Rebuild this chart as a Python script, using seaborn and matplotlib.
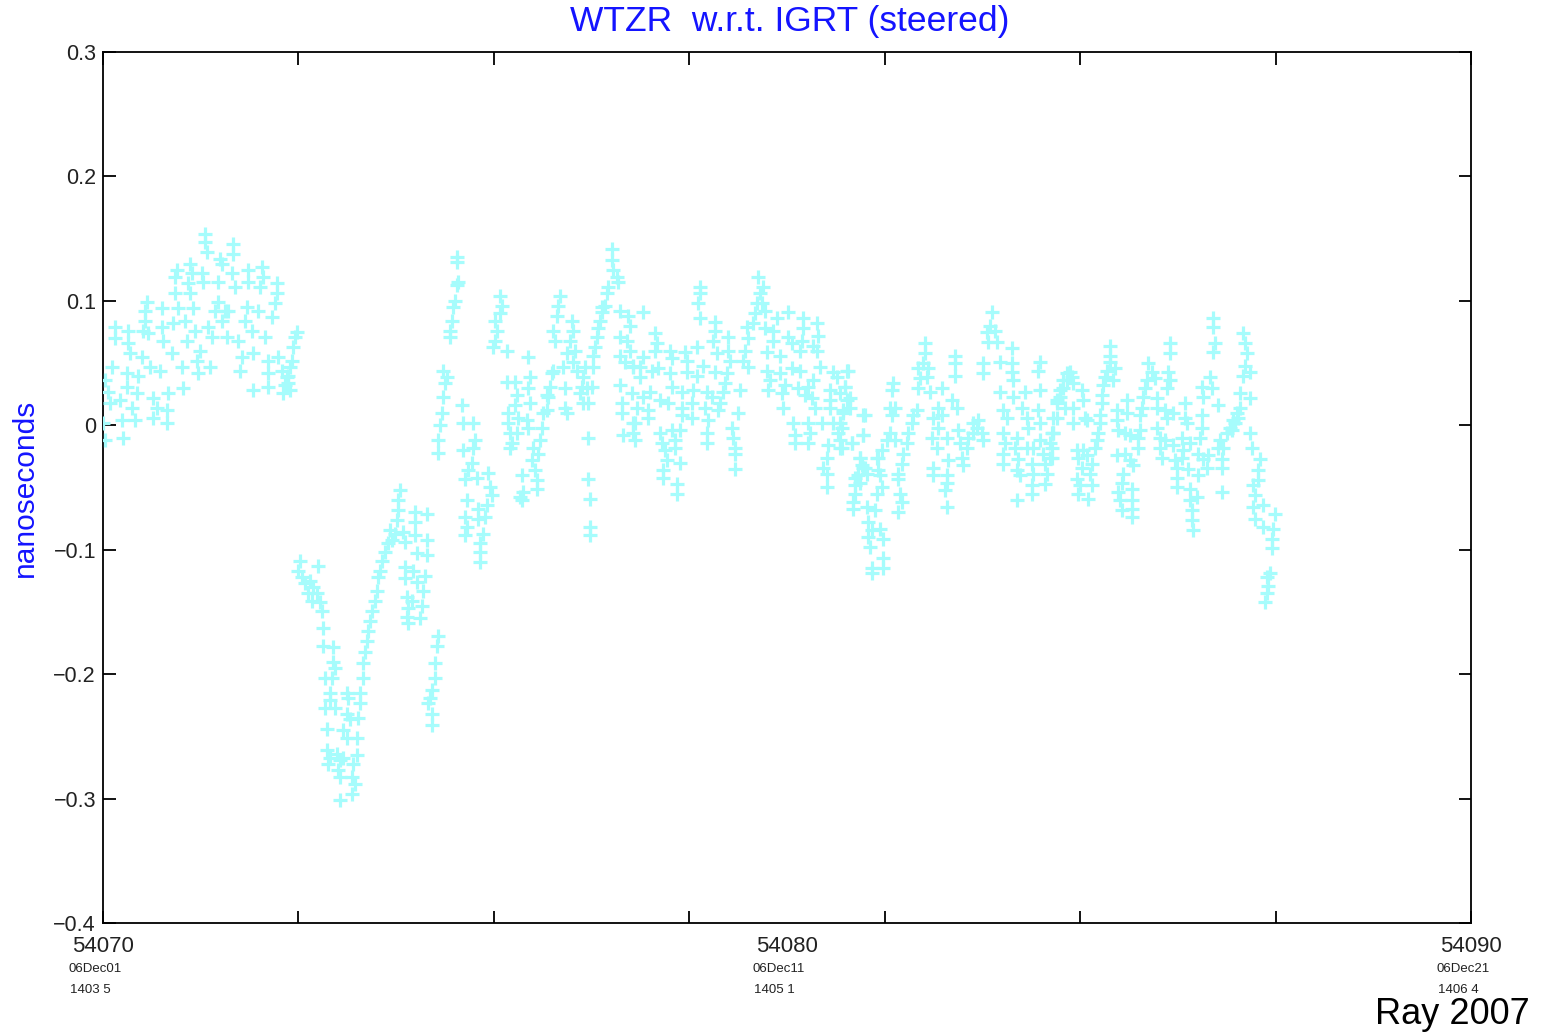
import matplotlib
matplotlib.use("Agg")
import matplotlib.pyplot as plt
import seaborn as sns
import pandas as pd

# ---------------- data ----------------
mjd_base = 54070
# (day offset from MJD 54070, offset in nanoseconds)
seg_a = [(0.03,0.036),(0.0,0.002),(0.03,-0.012),(0.07,0.027),(0.13,0.047),(0.18,0.079),(0.18,0.070),(0.10,0.018),
         (0.25,0.020),(0.28,0.004),(0.29,-0.010),(0.37,0.076),(0.37,0.066),(0.39,0.058),(0.35,0.031),(0.35,0.042),
         (0.42,0.014),(0.47,0.004),(0.50,0.026),(0.51,0.040),(0.57,0.055),(0.58,0.076),(0.61,0.084),(0.64,0.099),
         (0.61,0.092),(0.66,0.074),(0.69,0.047),(0.73,0.022),(0.73,0.006),(0.79,0.014),(0.83,0.044),(0.86,0.094),
         (0.86,0.079),(0.88,0.068),(0.94,0.002),(0.94,0.012),(0.95,0.026),(1.01,0.058),(1.02,0.082),(1.05,0.106),
         (1.08,0.125),(1.05,0.119),(1.10,0.094),(1.15,0.047),(1.17,0.030),(1.20,0.084),(1.23,0.068),(1.27,0.130),
         (1.30,0.122),(1.27,0.106),(1.24,0.114),(1.32,0.094),(1.35,0.076),(1.37,0.052),(1.39,0.042),(1.42,0.060),
         (1.45,0.122),(1.46,0.115),(1.49,0.154),(1.49,0.147),(1.52,0.139),(1.54,0.079),(1.59,0.071),(1.56,0.047),
         (1.64,0.092),(1.68,0.099),(1.71,0.134),(1.74,0.130),(1.68,0.115),(1.74,0.084),(1.78,0.092),(1.81,0.071),
         (1.83,0.092),(1.89,0.122),(1.90,0.138),(1.90,0.146),(1.93,0.111),(1.97,0.068),(2.00,0.044),(2.03,0.055),
         (2.08,0.084),(2.11,0.095),(2.12,0.125),(2.12,0.115),(2.18,0.076),(2.19,0.058),(2.19,0.028),(2.27,0.092),
         (2.30,0.111),(2.32,0.127),(2.34,0.119),(2.37,0.071),(2.41,0.052),(2.41,0.042),(2.41,0.031),(2.47,0.087),
         (2.51,0.098),(2.54,0.114),(2.54,0.106),(2.56,0.055),(2.62,0.044),(2.63,0.026),(2.69,0.039),(2.70,0.034),
         (2.76,0.052),(2.78,0.063),(2.81,0.071),(2.84,0.075),(2.73,0.047),(2.66,0.032),(2.73,0.028),(2.70,0.040)]

seg_b = [(2.88,-0.109),(3.14,-0.113),(2.85,-0.117),(2.91,-0.122),(2.95,-0.127),(3.03,-0.125),(3.07,-0.130),
         (3.00,-0.135),(3.13,-0.135),(3.06,-0.141),(3.17,-0.142),(3.20,-0.149),(3.22,-0.163),(3.22,-0.177),
         (3.36,-0.178),(3.36,-0.190),(3.39,-0.195),(3.25,-0.203),(3.35,-0.203),(3.32,-0.215),(3.32,-0.221),
         (3.25,-0.227),(3.39,-0.227),(3.57,-0.215),(3.58,-0.219),(3.76,-0.215),(3.76,-0.223),(3.57,-0.232),
         (3.61,-0.236),(3.73,-0.235),(3.27,-0.244),(3.51,-0.245),(3.57,-0.251),(3.71,-0.251),(3.27,-0.261),
         (3.32,-0.267),(3.29,-0.272),(3.42,-0.264),(3.46,-0.269),(3.51,-0.267),(3.71,-0.265),(3.65,-0.272),
         (3.44,-0.277),(3.46,-0.283),(3.64,-0.283),(3.68,-0.288),(3.64,-0.296),(3.46,-0.301),
         (3.80,-0.203),(3.80,-0.191),(3.83,-0.182),(3.86,-0.173),(3.87,-0.165),(3.90,-0.157),(3.93,-0.149),
         (3.98,-0.141),(4.01,-0.133),(4.02,-0.122),(4.05,-0.117),(4.08,-0.109),(4.12,-0.102),(4.17,-0.095),
         (4.23,-0.092),(4.20,-0.084),(4.27,-0.087),(4.39,-0.086),(4.30,-0.076),(4.31,-0.068),(4.31,-0.060),
         (4.34,-0.052),(4.41,-0.094),(4.56,-0.070),(4.56,-0.078),(4.74,-0.071),(4.56,-0.088),(4.74,-0.092),
         (4.59,-0.103),(4.74,-0.104),(4.41,-0.114),(4.53,-0.117),(4.71,-0.121),(4.41,-0.123),(4.59,-0.126),
         (4.68,-0.133),(4.44,-0.138),(4.52,-0.141),(4.66,-0.145),(4.46,-0.147),(4.44,-0.154),(4.63,-0.155),
         (4.46,-0.159),(4.90,-0.169),(4.88,-0.177),(4.85,-0.191),(4.85,-0.203),(4.81,-0.213),(4.78,-0.219),
         (4.75,-0.223),(4.81,-0.232),(4.81,-0.241)]

seg_c = [(4.96,0.010),(4.93,0.0),(4.90,-0.012),(4.90,-0.022),(4.97,0.023),(5.00,0.034),(4.97,0.044),(5.03,0.039),
         (5.07,0.071),(5.07,0.076),(5.10,0.084),(5.12,0.095),(5.15,0.100),(5.18,0.113),(5.19,0.115),(5.18,0.131),
         (5.18,0.135),(5.25,0.016),(5.26,0.002),(5.41,0.002),(5.44,-0.012),(5.26,-0.020),(5.41,-0.018),
         (5.39,-0.030),(5.34,-0.036),(5.29,-0.043),(5.47,-0.042),(5.63,-0.038),(5.66,-0.050),(5.69,-0.056),
         (5.32,-0.060),(5.29,-0.074),(5.32,-0.082),(5.29,-0.088),(5.61,-0.064),(5.48,-0.067),(5.58,-0.074),
         (5.48,-0.075),(5.56,-0.087),(5.51,-0.095),(5.51,-0.102),(5.51,-0.110),
         (5.80,0.104),(5.83,0.096),(5.80,0.090),(5.73,0.084),(5.76,0.076),(5.73,0.068),(5.70,0.063),(5.91,0.060),
         (6.21,0.055),(5.91,0.035),(6.02,0.035),(6.24,0.039),(6.21,0.030),(6.05,0.024),(6.02,0.016),(5.92,0.010),
         (6.07,0.006),(5.92,0.002),(6.24,0.018),(6.20,0.004),(6.21,-0.002),(6.05,-0.006),(5.95,-0.006),
         (5.98,-0.014),(5.95,-0.018),(6.29,-0.018),(6.27,-0.028),(6.32,-0.036),(6.35,-0.044),(6.35,-0.051),
         (6.13,-0.040),(6.14,-0.054),(6.13,-0.060),(6.10,-0.058),
         (6.36,-0.023),(6.39,-0.012),(6.42,-0.002),(6.43,0.010),(6.49,0.012),(6.51,0.023),(6.54,0.031),
         (6.56,0.042),(6.58,0.044),(6.49,0.024),(6.75,0.014),(6.78,0.010),(6.75,0.030),(6.73,0.047),
         (6.68,0.104),(6.65,0.096),(6.64,0.088),(6.58,0.076),(6.61,0.068),(6.86,0.084),(6.87,0.076),(6.83,0.068),
         (6.90,0.060),(6.78,0.058),(6.87,0.051),(6.93,0.044),(7.05,0.047),(7.02,0.039),(7.00,0.031),(6.97,0.026),
         (7.08,0.030),(7.15,0.031),(7.09,0.018),(7.02,0.018),(7.16,0.047),
         (7.09,-0.010),(7.09,-0.043),(7.12,-0.059),(7.12,-0.082),(7.12,-0.088),
         (7.44,0.142),(7.44,0.133),(7.46,0.125),(7.51,0.119),(7.53,0.115),(7.38,0.111),(7.37,0.106),(7.34,0.096),
         (7.30,0.091),(7.27,0.084),(7.24,0.078),(7.22,0.071),(7.19,0.063),(7.16,0.056),(7.30,0.095)]

seg_d = [(7.56,0.092),(7.68,0.088),(7.70,0.080),(7.56,0.071),(7.66,0.068),(7.70,0.060),(7.56,0.056),(7.63,0.051),
         (7.75,0.047),(7.56,0.032),(7.59,0.018),(7.59,0.010),(7.60,-0.008),(7.75,0.002),(7.78,-0.012),(7.73,0.026),
         (7.89,0.091),(8.07,0.074),(8.10,0.066),(8.07,0.060),(7.89,0.055),(7.75,0.048),(7.85,0.047),(8.03,0.044),
         (8.11,0.046),(8.29,0.060),(8.32,0.054),(8.51,0.059),(8.54,0.052),(8.68,0.063),(8.73,0.111),(8.73,0.106),
         (8.70,0.098),(8.73,0.086),(8.95,0.083),(8.95,0.076),(8.92,0.068),(9.14,0.071),(9.14,0.060),(8.98,0.058),
         (9.17,0.052),(7.85,0.039),(8.00,0.027),(7.89,0.023),(8.29,0.042),(8.54,0.043),(8.68,0.040),(8.77,0.048),
         (8.95,0.043),(9.12,0.042),(9.09,0.034),(8.32,0.031),(8.46,0.027),(8.63,0.028),(8.83,0.027),(8.90,0.023),
         (9.02,0.018),(9.06,0.027),(9.31,0.028),(7.81,0.014),(7.97,0.012),(8.14,0.020),(8.26,0.018),(8.46,0.014),
         (8.61,0.018),(8.80,0.014),(8.99,0.012),(7.97,0.006),(8.46,0.008),(8.61,0.006),(8.85,0.004),(9.28,0.010),
         (7.78,0.002),(7.75,-0.006),(8.14,-0.006),(8.32,-0.004),(8.44,-0.004),(8.17,-0.014),(8.36,-0.012),
         (8.21,-0.020),(8.36,-0.018),(8.25,-0.028),(8.44,-0.030),(8.19,-0.036),(8.19,-0.042),(8.39,-0.047),
         (8.39,-0.055),(8.83,-0.006),(8.83,-0.014),(9.20,-0.002),(9.21,-0.010),(9.24,-0.018),(9.24,-0.023),
         (9.24,-0.035),
         (9.42,0.079),(9.43,0.070),(9.39,0.060),(9.36,0.052),(9.43,0.047),(9.50,0.082),(9.53,0.090),(9.56,0.098),
         (9.61,0.106),(9.58,0.119),(9.65,0.111),(9.63,0.098),(9.68,0.092),(9.68,0.078),(9.85,0.086),(10.02,0.091),
         (10.23,0.086),(10.44,0.082),(10.45,0.072),(9.80,0.076),(9.80,0.068),(9.71,0.059),(9.90,0.056),
         (10.02,0.071),(10.07,0.066),(10.23,0.078),(10.22,0.068),(10.19,0.060),(10.38,0.064),(10.44,0.060),
         (9.71,0.044),(9.75,0.036),(9.72,0.028),(9.90,0.042),(9.97,0.032),(9.93,0.026),(9.94,0.014),(10.07,0.046),
         (10.19,0.044),(10.16,0.030),(10.31,0.031),(10.26,0.024),(10.36,0.022),(10.38,0.036),(10.48,0.047),
         (10.41,0.014),(10.67,0.043),(10.73,0.039),(10.88,0.044),(10.63,0.028),(10.63,0.020),(10.63,0.014),
         (10.77,0.026),(10.85,0.031),(10.88,0.020),(10.82,0.010),(10.92,0.014),(10.77,0.002),(11.14,0.008),
         (10.09,0.002),(10.12,-0.008),(10.12,-0.014),(10.31,0.002),(10.34,-0.006),(10.31,-0.014),(10.51,0.002),
         (10.67,0.002),(10.75,-0.006),(10.77,-0.012),(10.77,-0.018),(10.95,-0.014),(11.11,-0.008),(10.60,-0.016),
         (10.58,-0.026),(10.53,-0.034),(10.58,-0.039),(10.58,-0.050),(11.07,-0.026),(11.11,-0.034),(11.04,-0.040),
         (10.99,-0.048),(11.17,-0.039),(11.32,-0.026),(11.33,-0.036)]

seg_e = [(10.89,0.044),(10.85,0.031),(10.92,0.022),(10.82,0.012),(10.80,-0.002),(10.80,-0.018),(10.95,-0.014),
         (11.11,0.008),(11.11,-0.008),(11.07,-0.026),(11.10,-0.032),(11.14,-0.034),(10.99,-0.042),(11.07,-0.046),
         (10.99,-0.055),(10.96,-0.062),(10.96,-0.067),(11.17,-0.066),(11.29,-0.068),(11.18,-0.078),(11.24,-0.084),
         (11.18,-0.090),(11.36,-0.083),(11.40,-0.091),(11.21,-0.098),(11.40,-0.107),(11.40,-0.115),(11.24,-0.115),
         (11.24,-0.119),(11.32,-0.055),(11.39,-0.050),(11.36,-0.040),(11.33,-0.026),(11.39,-0.020),(11.46,-0.012),
         (11.51,-0.006),(11.58,-0.012),(11.51,0.014),(11.58,0.014),(11.55,0.034),(11.54,0.028),(11.54,0.008),
         (11.62,-0.039),(11.62,-0.043),(11.68,-0.031),(11.70,-0.023),(11.75,-0.014),(11.77,-0.006),(11.83,0.002),
         (11.84,0.008),(11.90,0.012),(11.65,-0.055),(11.68,-0.062),(11.62,-0.070),
         (12.02,0.066),(12.02,0.058),(11.99,0.050),(11.92,0.046),(12.06,0.046),(11.94,0.038),(12.05,0.039),
         (11.92,0.030),(12.09,0.027),(12.27,0.030),(12.46,0.056),(12.46,0.050),(12.46,0.040),(12.41,0.020),
         (12.49,0.014),(12.21,0.014),(12.13,0.006),(12.27,0.008),(12.21,-0.002),(12.12,-0.010),(12.19,-0.018),
         (12.34,-0.010),(12.35,-0.028),(12.13,-0.034),(12.13,-0.040),(12.34,-0.040),(12.34,-0.046),(12.31,-0.052),
         (12.34,-0.066),(12.50,-0.004),(12.53,-0.014),(12.56,-0.026),(12.57,-0.032),(12.63,-0.018),(12.65,-0.010),
         (12.72,-0.006),(12.78,-0.002),(12.72,0.002),(12.79,0.004),(12.85,-0.006),(12.87,-0.012),
         (13.00,0.091),(12.97,0.080),(12.92,0.075),(13.04,0.076),(12.94,0.067),(13.07,0.067),(12.87,0.050),
         (12.87,0.042),(13.11,0.051),(13.29,0.062),(13.29,0.050),(13.29,0.043),(13.30,0.036),(13.70,0.051),
         (13.67,0.044),(13.11,0.027),(13.30,0.023),(13.16,0.012),(13.22,0.006),(13.48,0.027),(13.70,0.028),
         (13.44,0.014),(13.67,0.012),(13.51,0.006),(13.52,-0.002),(13.70,0.002),(13.16,-0.006),(13.19,-0.014),
         (13.16,-0.023),(13.16,-0.031),(13.36,-0.010),(13.33,-0.018),(13.38,-0.027),(13.36,-0.036),(13.41,-0.040),
         (13.51,-0.018),(13.60,-0.018),(13.58,-0.031),(13.60,-0.039),(13.58,-0.048),(13.58,-0.055),(13.36,-0.060),
         (13.70,-0.012),(13.74,-0.023),(13.77,-0.031),(13.80,-0.039),(13.77,-0.047),(13.89,0.006),(13.95,0.020),
         (13.99,0.028),(14.04,0.036),(14.09,0.042),(13.87,-0.006),(13.84,-0.014),(13.84,-0.026),(13.89,-0.006)]

seg_f = [(14.14,0.043),(14.09,0.036),(14.04,0.030),(13.99,0.023),(13.95,0.018),(14.17,0.039),(14.18,0.034),
         (14.06,0.014),(14.18,0.014),(13.95,0.006),(13.89,-0.006),(13.87,-0.018),(13.87,-0.026),(14.18,0.002),
         (14.31,0.028),(14.33,0.020),(14.36,0.006),(14.39,0.004),(14.24,-0.020),(14.25,-0.026),(14.33,-0.020),
         (14.39,-0.024),(14.46,-0.031),(14.31,-0.034),(14.24,-0.043),(14.28,-0.048),(14.25,-0.055),(14.43,-0.039),
         (14.46,-0.048),(14.40,-0.059),(14.50,-0.018),(14.53,-0.012),(14.55,-0.006),(14.58,0.002),(14.58,0.008),
         (14.61,0.018),(14.61,0.024),(14.62,0.032),(14.65,0.039),(14.68,0.044),(14.72,0.051),(14.72,0.056),
         (14.72,0.064),(14.80,0.046),(14.77,0.036),(14.82,0.012),(14.97,0.020),(14.97,0.010),(14.82,0.004),
         (14.84,-0.004),(14.94,-0.006),(15.01,-0.008),(14.82,-0.024),(14.94,-0.023),(15.01,-0.028),(15.06,-0.032),
         (15.13,-0.018),(15.13,-0.010),(15.16,-0.004),(14.91,-0.039),(14.90,-0.046),(14.84,-0.054),(14.87,-0.060),
         (15.04,-0.051),(15.04,-0.060),(15.04,-0.067),(14.90,-0.068),(15.04,-0.074),
         (15.28,0.050),(15.34,0.043),(15.26,0.036),(15.23,0.030),(15.20,0.023),(15.19,0.014),(15.16,0.008),
         (15.38,0.038),(15.41,0.022),(15.41,0.014),(15.60,0.066),(15.60,0.058),(15.57,0.043),(15.60,0.036),
         (15.56,0.030),(15.53,0.012),(15.64,0.010),(15.56,0.006),(15.41,-0.002),(15.45,-0.010),(15.45,-0.018),
         (15.48,-0.026),(15.53,-0.012),(15.64,-0.016),(15.67,-0.028),(15.70,-0.034),(15.70,-0.042),(15.70,-0.050),
         (15.77,-0.010),(15.79,-0.020),(15.77,-0.026),(15.82,0.018),(15.82,0.006),(15.85,0.002),(15.89,-0.014),
         (15.86,-0.035),(15.89,-0.051),(15.89,-0.060),(15.92,-0.068),(15.92,-0.076),(15.94,-0.084),(15.99,-0.058),
         (16.01,-0.040),(16.07,0.031),(16.08,0.023),(16.07,0.008),(16.07,-0.002),(16.04,-0.010),(16.01,-0.023),
         (16.08,-0.027),(16.15,-0.024),(16.14,-0.034),(16.18,0.039),(16.21,0.030),(16.23,0.086),(16.23,0.079),
         (16.26,0.066),(16.23,0.059),(16.30,0.016),(16.30,-0.018),(16.33,-0.012),(16.37,-0.018),(16.36,-0.027),
         (16.36,-0.034),(16.36,-0.054),(16.43,-0.006),(16.48,-0.002),(16.52,0.004),(16.58,0.010),(16.62,0.014),
         (16.51,-0.004),(16.55,0.002),(16.59,0.006),(16.67,0.074),(16.70,0.066),(16.73,0.058),(16.70,0.048),
         (16.67,0.040),(16.77,0.043),(16.62,0.026),(16.77,0.022),(16.77,-0.006),(16.80,-0.018),(16.92,-0.027),
         (16.89,-0.036),(16.89,-0.044),(16.81,-0.048),(16.84,-0.056),(16.81,-0.066),(16.84,-0.075),(16.96,-0.064),
         (16.96,-0.082),(17.13,-0.071),(17.11,-0.083),(17.09,-0.091),(17.09,-0.099),(17.02,-0.122),(17.03,-0.129),
         (17.02,-0.135),(16.99,-0.142),(17.06,-0.119)]

y_ticks = [-0.4, -0.3, -0.2, -0.1, 0.0, 0.1, 0.2, 0.3]
y_tick_labels = ["\u22120.4", "\u22120.3", "\u22120.2", "\u22120.1", "0", "0.1", "0.2", "0.3"]
x_major_ticks = [54070, 54072.857, 54075.714, 54078.571, 54081.429, 54084.286, 54087.143, 54090]
x_label_pos = [54070, 54080, 54090]
x_label_mjd = ["54070", "54080", "54090"]
x_label_date = ["06Dec01", "06Dec11", "06Dec21"]
x_label_gps = ["1403 5", "1405 1", "1406 4"]

title_text = "WTZR  w.r.t. IGRT (steered)"
ylabel_text = "nanoseconds"
credit_text = "Ray 2007"

# ---------------- build table ----------------
all_pts = seg_a + seg_b + seg_c + seg_d + seg_e + seg_f
df = pd.DataFrame(all_pts, columns=["day", "ns"])
df["mjd"] = mjd_base + df["day"]

# ---------------- plot ----------------
sns.set_style("ticks")
plt.rcParams["font.family"] = ["Liberation Sans", "DejaVu Sans"]

W, H = 1541, 1034
fig = plt.figure(figsize=(W / 100, H / 100), dpi=100)
ax = fig.add_axes([103 / W, 1 - 923 / H, (1471 - 103) / W, (923 - 52) / H])

sns.scatterplot(data=df, x="mjd", y="ns", marker="+", s=100, linewidth=2.3,
                color="#a6fcfc", ax=ax, legend=False, zorder=3)

ax.set_xlim(54070, 54090)
ax.set_ylim(-0.4, 0.3)
ax.set_xlabel("")
ax.set_ylabel("")

ax.set_yticks(y_ticks)
ax.set_yticklabels(y_tick_labels)
ax.set_xticks(x_major_ticks)
ax.set_xticklabels([])
ax.tick_params(axis="both", which="major", direction="in", length=9, width=1.3,
               top=True, right=True, labelsize=15.5, colors="black", pad=5)
ax.tick_params(axis="y", labelcolor="#222222")
for sp in ax.spines.values():
    sp.set_visible(True)
    sp.set_linewidth(1.3)
    sp.set_color("black")

for xp, a, b, c in zip(x_label_pos, x_label_mjd, x_label_date, x_label_gps):
    ax.annotate(a, xy=(xp, 0), xycoords=("data", "axes fraction"),
                xytext=(0, -23), textcoords="offset pixels",
                ha="center", va="center", fontsize=16, color="#222222")
    ax.annotate(b, xy=(xp, 0), xycoords=("data", "axes fraction"),
                xytext=(-35, -46), textcoords="offset pixels",
                ha="left", va="center", fontsize=9.5, color="#222222")
    ax.annotate(c, xy=(xp, 0), xycoords=("data", "axes fraction"),
                xytext=(-33, -67), textcoords="offset pixels",
                ha="left", va="center", fontsize=9.5, color="#222222")

fig.text(790 / W, 1 - 22 / H, title_text, ha="center", va="center",
         fontsize=25.5, color="#1414ff")
fig.text(25 / W, 1 - 488 / H, ylabel_text, ha="center", va="center",
         rotation=90, fontsize=21.5, color="#1414ff")
fig.text(1530 / W, 1 - 1015 / H, credit_text, ha="right", va="center",
         fontsize=26, color="black")

fig.savefig("out.png", dpi=100, facecolor="white")
